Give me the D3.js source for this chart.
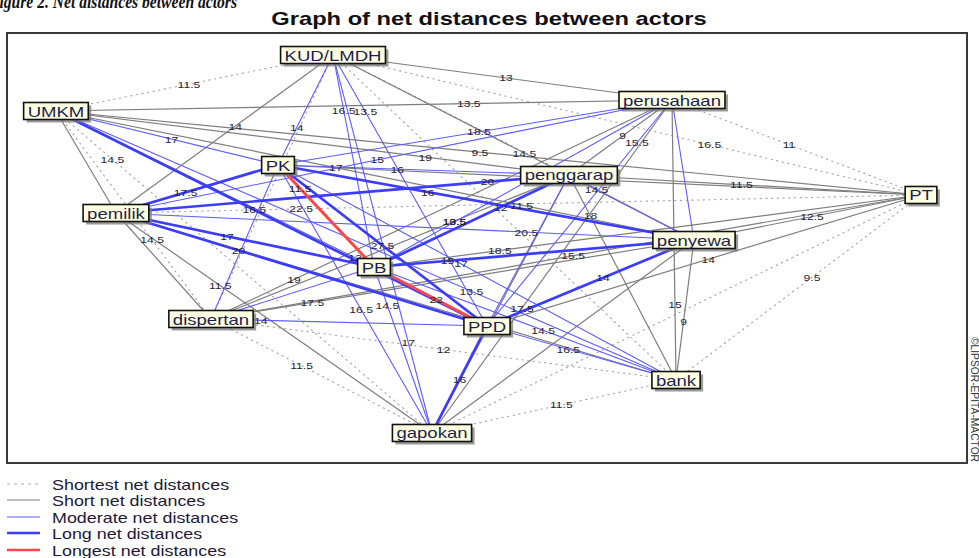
<!DOCTYPE html>
<html><head><meta charset="utf-8">
<script src="https://cdn.jsdelivr.net/npm/d3@7"></script>
<style>body{margin:0;background:#fff}svg{display:block}text{font-family:"Liberation Sans",Arial,sans-serif}</style>
</head><body>
<svg id="c" width="979" height="558"></svg>
<script>
// ---------- data ----------
const nodeNames = ["KUD/LMDH","UMKM","perusahaan","PK","penggarap","PT","pemilik","penyewa","PB","dispertan","PPD","bank","gapokan"];
// layout units (0-100) on both axes
const nodeX = [33.96,5.10,69.27,28.23,58.54,95.21,11.35,71.56,38.23,21.25,50.0,69.69,44.27];
const nodeY = [5.12,18.14,15.58,30.70,33.02,37.67,41.86,48.14,54.42,66.51,68.14,80.70,93.02];
const classNames = ["Shortest net distances","Short net distances","Moderate net distances","Long net distances","Longest net distances"];
// [source, target, class, net distance]
const edges = [
[0,1,0,11.5],[0,2,1,13],[0,3,2,14],[0,4,0,null],[0,5,0,16.5],[0,6,1,14],[0,7,1,14.5],[0,8,2,16.5],[0,9,0,null],[0,10,2,13.5],[0,11,0,null],[0,12,2,17],
[1,2,1,13.5],[1,3,2,17],[1,4,1,19],[1,5,1,9.5],[1,6,1,null],[1,7,1,11.5],[1,8,2,12],[1,9,0,14.5],[1,10,3,16.5],[1,11,2,13.5],[1,12,0,14.5],
[2,3,2,18.5],[2,4,1,9],[2,5,0,11],[2,6,2,15],[2,7,2,null],[2,8,2,13.5],[2,9,1,19],[2,10,2,15.5],[2,11,1,15],[2,12,1,17.5],
[3,4,2,16],[3,5,1,17],[3,6,3,17.5],[3,7,3,16],[3,8,4,11.5],[3,9,2,null],[3,10,3,27.5],[3,11,2,17],[3,12,2,16.5],
[4,5,1,11.5],[4,6,3,20],[4,7,2,14.5],[4,8,3,12],[4,9,1,19.5],[4,10,2,null],[4,11,1,18],[4,12,1,null],
[5,6,0,22.5],[5,7,1,12.5],[5,8,1,18.5],[5,9,1,15.5],[5,10,1,14],[5,11,0,9.5],[5,12,0,null],
[6,7,2,20.5],[6,8,3,17],[6,9,1,null],[6,10,3,20],[6,11,1,null],[6,12,1,11.5],
[7,8,3,15],[7,9,1,17.5],[7,10,3,14],[7,11,1,9],[7,12,1,null],
[8,9,2,null],[8,10,4,22],[8,11,2,14.5],[8,12,2,14.5],
[9,10,2,14],[9,11,0,12],[9,12,0,11.5],
[10,11,2,16.5],[10,12,3,16],
[11,12,0,11.5]
];
// fraction along each edge (from source) where its value is written
const labelT = [
.52,.51,.66,.5,.64,.45,.53,.26,.5,.21,.5,.76,
.67,.52,.72,.49,.5,.73,.94,.62,.46,.67,.15,
.49,.48,.47,.53,.5,.73,.82,.19,.73,.625,
.41,.09,.57,.36,.23,.5,.5,.46,.54,
.49,.18,.22,.35,.32,.5,.2,.5,
.77,.48,.77,.49,.49,.445,.5,
.71,.43,.54,.33,.5,.33,
.77,.79,.44,.58,.5,
.5,.55,.56,.23,
.18,.5,.41,
.43,.5,
.47
];
const titleText = "Graph of net distances between actors";
const captionText = "Figure 2. Net distances between actors";
const creditText = "\u00A9LIPSOR-EPITA-MACTOR";

// ---------- drawing ----------
const SX = 1.28; // horizontal stretch of the original rendering
const svg = d3.select("#c");
const L=7,R=967,T=33,B=463;
const x = d3.scaleLinear().domain([0,100]).range([L,R]);
const y = d3.scaleLinear().domain([0,100]).range([T,B]);
const style = [
 {stroke:"#a3a3a3", w:1.1, dash:"1.3,4.4"},
 {stroke:"#7d7d7d", w:1.2, dash:null},
 {stroke:"#5c5cff", w:1.1, dash:null},
 {stroke:"#3c3cff", w:2.7, dash:null},
 {stroke:"#ff4646", w:3, dash:null}
];

function stretchedText(parent, px, py, str, size, opts={}) {
  const g = parent.append("g").attr("transform", `translate(${px},${py}) scale(${opts.sx||SX},1)`);
  const t = g.append("text").attr("x",0).attr("y",0)
    .attr("text-anchor", opts.anchor||"middle")
    .attr("font-size", size)
    .attr("font-weight", opts.weight||"normal")
    .attr("fill", opts.fill||"#222")
    .text(str);
  return t;
}

// caption (cut at top, as in the source)
svg.append("text").attr("x",-11).attr("y",8)
  .attr("font-size",18).attr("font-weight","bold").attr("font-style","italic")
  .style("font-family","'Liberation Serif','Times New Roman',serif")
  .attr("textLength",248).attr("lengthAdjust","spacingAndGlyphs")
  .attr("fill","#111").text(captionText);

// title
stretchedText(svg, 489, 25, titleText, 18.5, {weight:"bold", fill:"#111"});

// frame
svg.append("rect").attr("x",L).attr("y",T).attr("width",R-L).attr("height",B-T)
  .attr("fill","none").attr("stroke","#3a3a3a").attr("stroke-width",2);

// edges
const gE = svg.append("g");
const order = d3.range(edges.length).sort((a,b)=>edges[a][2]-edges[b][2]);
order.forEach(i=>{
  const [a,b,c] = edges[i];
  const s = style[c];
  gE.append("line")
    .attr("x1",x(nodeX[a])).attr("y1",y(nodeY[a]))
    .attr("x2",x(nodeX[b])).attr("y2",y(nodeY[b]))
    .attr("stroke",s.stroke).attr("stroke-width",s.w)
    .attr("stroke-dasharray",s.dash).attr("stroke-linecap", c===0?"round":"butt");
});

// edge values
const gL = svg.append("g");
edges.forEach((e,i)=>{
  const [a,b,c,v] = e;
  if (v===null) return;
  const t = labelT[i];
  const px = x(nodeX[a]) + (x(nodeX[b])-x(nodeX[a]))*t;
  const py = y(nodeY[a]) + (y(nodeY[b])-y(nodeY[a]))*t;
  stretchedText(gL, px, py+3.5, String(v), 9.5, {fill:"#2a1f33"});
});

// nodes
const gN = svg.append("g");
nodeNames.forEach((n,i)=>{
  const cx = x(nodeX[i]), cy = y(nodeY[i]);
  const g = gN.append("g").attr("transform",`translate(${cx},${cy})`);
  const sh = g.append("rect");
  const bx = g.append("rect");
  const tg = g.append("g").attr("transform",`scale(${SX},1)`);
  const t = tg.append("text").attr("x",0).attr("y",5.5).attr("text-anchor","middle")
    .attr("font-size",14.5).attr("fill","#1d1d52").text(n);
  const w = t.node().getComputedTextLength()*SX + 8, h = 17;
  sh.attr("x",-w/2+3).attr("y",-h/2+3).attr("width",w).attr("height",h).attr("fill","#7a7a7a").attr("opacity",0.75);
  bx.attr("x",-w/2).attr("y",-h/2).attr("width",w).attr("height",h)
    .attr("fill","#ffffe1").attr("stroke","#111").attr("stroke-width",1.6);
});

// credit (rotated)
svg.append("text").attr("transform","translate(971,337) rotate(90)")
  .attr("font-size",10).attr("fill","#333")
  .attr("textLength",125).attr("lengthAdjust","spacingAndGlyphs")
  .text(creditText);

// legend
const gLeg = svg.append("g");
const legY = [484,500,517,533,550];
classNames.forEach((nm,i)=>{
  const s = style[i];
  gLeg.append("line").attr("x1",7).attr("x2",40).attr("y1",legY[i]).attr("y2",legY[i])
    .attr("stroke",i===0?"#b0b0b0":s.stroke).attr("stroke-width",i>=3?2.4:1)
    .attr("stroke-dasharray", i===0?"3,4":null);
  stretchedText(gLeg, 52, legY[i]+5.5, nm, 14, {anchor:"start", fill:"#1e1838"});
});
</script>
</body></html>
